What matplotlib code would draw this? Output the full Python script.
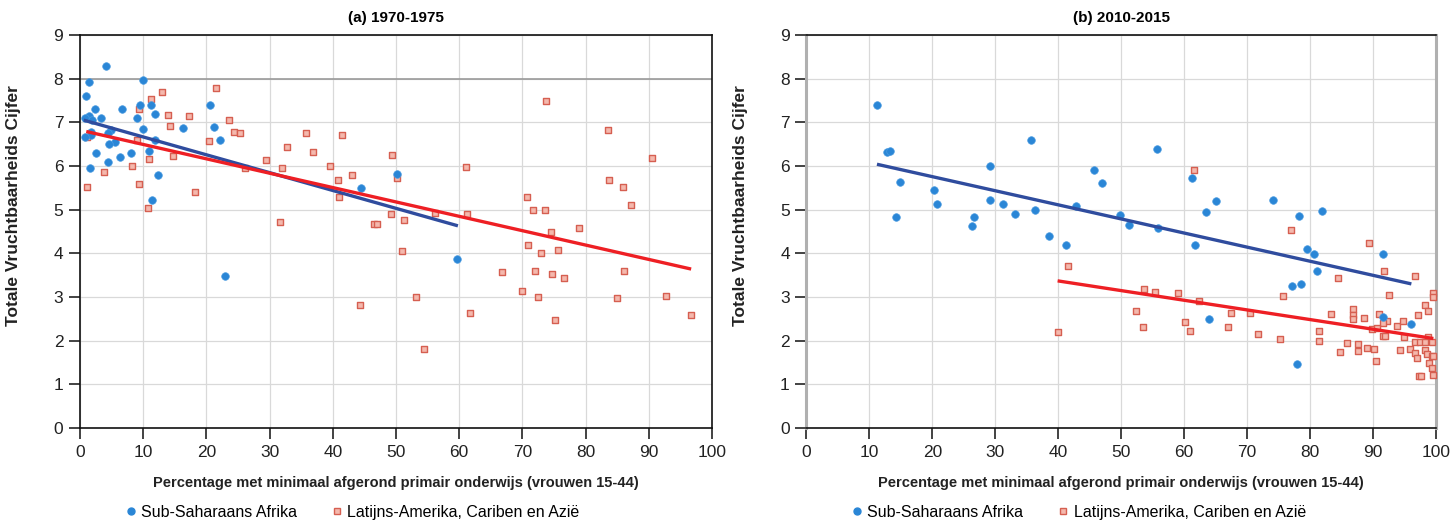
import numpy as np
import matplotlib.pyplot as plt
from matplotlib.lines import Line2D

# lettertype: smalle Helvetica-achtige letter
plt.rcParams['font.family'] = ['Liberation Sans Narrow', 'Liberation Sans', 'DejaVu Sans']

# ---- data (a) 1970-1975 ----
a_afr_x = [4.06, 1.37, 10.0, 0.9, 2.4, 6.6, 9.5, 11.2, 11.9, 1.42, 0.84, 1.95, 3.4, 9.07,
           10.0, 16.3, 1.74, 1.74, 4.9, 4.5, 0.74, 11.9, 5.5, 4.6, 10.9, 2.5, 8.0, 6.3,
           4.4, 1.6, 12.3, 11.4, 20.6, 21.2, 22.2, 44.5, 50.1, 59.7, 22.9]
a_afr_y = [8.28, 7.92, 7.98, 7.6, 7.3, 7.3, 7.4, 7.4, 7.2, 7.14, 7.1, 7.05, 7.1, 7.1,
           6.85, 6.86, 6.79, 6.70, 6.82, 6.75, 6.67, 6.6, 6.55, 6.51, 6.35, 6.29, 6.29, 6.21,
           6.1, 5.95, 5.8, 5.23, 7.4, 6.89, 6.6, 5.5, 5.81, 3.87, 3.48]

a_lat_x = [21.6, 13.0, 11.3, 9.3, 14.0, 17.2, 14.2, 23.6, 24.3, 25.4, 1.15, 9.1, 20.4, 14.7,
           10.9, 8.3, 3.75, 1.06, 9.3, 18.2, 10.8, 26.1, 29.4, 32.0, 32.8, 35.8, 36.9, 41.5,
           39.6, 43.0, 40.8, 41.0, 31.6, 49.4, 50.2, 49.2, 51.2, 46.6, 47.0, 51.0, 73.8, 83.5,
           90.5, 61.1, 83.7, 85.9, 87.2, 70.7, 71.7, 73.6, 56.2, 61.3, 74.6, 78.9, 70.9, 72.9,
           75.7, 66.8, 72.0, 74.7, 76.6, 86.0, 69.9, 72.5, 85.0, 92.7, 53.2, 44.3, 61.7, 75.2,
           96.6, 54.4]
a_lat_y = [7.79, 7.69, 7.54, 7.3, 7.17, 7.15, 6.91, 7.05, 6.79, 6.75, 6.67, 6.6, 6.58, 6.24,
           6.15, 5.99, 5.87, 5.53, 5.59, 5.41, 5.04, 5.95, 6.14, 5.95, 6.44, 6.75, 6.33, 6.7,
           5.99, 5.79, 5.67, 5.3, 4.71, 6.25, 5.73, 4.9, 4.77, 4.67, 4.68, 4.06, 7.49, 6.82,
           6.18, 5.97, 5.69, 5.53, 5.11, 5.28, 4.99, 4.99, 4.93, 4.89, 4.49, 4.59, 4.18, 4.0,
           4.08, 3.57, 3.6, 3.53, 3.44, 3.6, 3.14, 2.99, 2.98, 3.03, 3.01, 2.81, 2.64, 2.48,
           2.59, 1.81]

a_afr_fit_x = [0.6, 59.8]
a_afr_fit_y = [7.05, 4.63]
a_lat_fit_x = [1.0, 96.7]
a_lat_fit_y = [6.79, 3.64]

# ---- data (b) 2010-2015 ----
b_afr_x = [11.2, 12.8, 13.2, 29.1, 35.7, 14.9, 20.3, 20.8, 14.2, 26.6, 26.3, 29.2, 31.3, 33.2,
           36.3, 38.6, 41.3, 42.8, 45.7, 47.0, 49.8, 51.2, 55.7, 61.3, 65.1, 63.5, 74.1, 78.3,
           81.9, 55.8, 61.7, 79.5, 80.6, 91.6, 81.1, 77.1, 78.5, 63.9, 91.6, 96.1, 78.0]
b_afr_y = [7.39, 6.31, 6.34, 5.99, 6.6, 5.64, 5.44, 5.13, 4.83, 4.84, 4.62, 5.21, 5.13, 4.89,
           4.99, 4.39, 4.19, 5.09, 5.9, 5.61, 4.87, 4.66, 6.40, 5.73, 5.19, 4.95, 5.23, 4.85,
           4.98, 4.59, 4.18, 4.09, 3.99, 3.99, 3.59, 3.25, 3.3, 2.49, 2.54, 2.39, 1.47]

b_lat_x = [41.6, 39.9, 53.6, 55.4, 59.1, 62.4, 52.4, 53.4, 60.2, 60.9, 67.5, 66.9, 70.4, 71.7,
           75.3, 61.6, 76.9, 89.4, 91.8, 96.7, 84.4, 75.7, 92.6, 99.6, 99.6, 81.5, 81.5, 83.4,
           86.8, 86.8, 86.8, 88.6, 91.0, 92.2, 91.6, 89.8, 90.7, 93.8, 94.8, 91.6, 91.9, 94.9,
           97.1, 98.2, 98.8, 98.7, 96.7, 97.5, 98.3, 99.4, 85.8, 87.7, 84.7, 87.6, 89.1, 90.2,
           90.5, 94.3, 95.9, 96.6, 97.0, 98.3, 98.6, 99.3, 99.6, 98.9, 99.4, 99.6, 97.3, 97.7]
b_lat_y = [3.72, 2.19, 3.18, 3.12, 3.10, 2.92, 2.69, 2.31, 2.43, 2.22, 2.63, 2.31, 2.64, 2.16,
           2.04, 5.9, 4.54, 4.24, 3.59, 3.49, 3.44, 3.03, 3.05, 3.09, 2.99, 2.22, 1.99, 2.6,
           2.72, 2.58, 2.5, 2.52, 2.6, 2.44, 2.4, 2.27, 2.29, 2.34, 2.45, 2.11, 2.11, 2.09,
           2.59, 2.82, 2.69, 2.08, 1.98, 1.98, 1.98, 1.98, 1.95, 1.92, 1.74, 1.77, 1.84, 1.81,
           1.53, 1.79, 1.81, 1.71, 1.60, 1.79, 1.69, 1.64, 1.64, 1.50, 1.37, 1.22, 1.20, 1.20]

b_afr_fit_x = [11.2, 96.1]
b_afr_fit_y = [6.04, 3.30]
b_lat_fit_x = [39.9, 99.6]
b_lat_fit_y = [3.37, 2.05]

titles = ['(a) 1970-1975', '(b) 2010-2015']
series_names = ['Sub-Saharaans Afrika', 'Latijns-Amerika, Cariben en Azië']
xlabel = 'Percentage met minimaal afgerond primair onderwijs (vrouwen 15-44)'
ylabel = 'Totale Vruchtbaarheids Cijfer'

blue_pt = '#2a86d6'
blue_line = '#2f4c9e'
red_face = '#f4b8ad'
red_edge = '#d65f51'
red_line = '#ee1f24'
grid_c = '#d9d9d9'

fig = plt.figure(figsize=(14.51, 5.2), dpi=100)
ax_a = fig.add_axes([0.0551, 0.1769, 0.4356, 0.7558])
ax_b = fig.add_axes([0.5558, 0.1769, 0.4338, 0.7558])

panels = [
    (ax_a, a_afr_x, a_afr_y, a_lat_x, a_lat_y, a_afr_fit_x, a_afr_fit_y, a_lat_fit_x, a_lat_fit_y),
    (ax_b, b_afr_x, b_afr_y, b_lat_x, b_lat_y, b_afr_fit_x, b_afr_fit_y, b_lat_fit_x, b_lat_fit_y),
]

for i, (ax, ax_x, ax_y, lx, ly, afx, afy, lfx, lfy) in enumerate(panels):
    ax.set_xlim(0, 100)
    ax.set_ylim(0, 9)
    ax.set_xticks(np.arange(0, 101, 10))
    ax.set_yticks(np.arange(0, 10, 1))
    ax.grid(True, color=grid_c, linewidth=0.9)
    ax.set_axisbelow(True)

    # punten
    ax.scatter(lx, ly, marker='s', s=24, facecolor=red_face, edgecolor=red_edge,
               linewidth=1.0, zorder=3, clip_on=False)
    ax.scatter(ax_x, ax_y, marker='o', s=30, facecolor=blue_pt, edgecolor='#4a9be0',
               linewidth=0.5, zorder=4, clip_on=False)

    # trendlijnen
    ax.plot(afx, afy, color=blue_line, linewidth=2.4, zorder=5, solid_capstyle='butt')
    ax.plot(lfx, lfy, color=red_line, linewidth=2.4, zorder=5, solid_capstyle='butt')

    ax.tick_params(axis='both', direction='out', length=8, width=1.2, color='#222222',
                   labelsize=12.5, labelcolor='#222222', pad=4)
    ax.set_title(titles[i], fontsize=11, fontweight='bold', pad=9,
                 family=['Liberation Sans', 'DejaVu Sans'])
    ax.set_xlabel(xlabel, fontsize=10.5, fontweight='bold', labelpad=12, color='#222222')
    ax.set_ylabel(ylabel, fontsize=12.5, fontweight='bold', color='#222222')
    ax.yaxis.set_label_coords(-0.093, 0.565)

    for side in ['top', 'bottom', 'left', 'right']:
        ax.spines[side].set_color('#111111')
        ax.spines[side].set_linewidth(1.2)

    handles = [
        Line2D([], [], marker='o', linestyle='none', markersize=5, markerfacecolor=blue_pt,
               markeredgecolor=blue_pt),
        Line2D([], [], marker='s', linestyle='none', markersize=5, markerfacecolor=red_face,
               markeredgecolor=red_edge, markeredgewidth=1.0),
    ]
    ax.legend(handles, series_names, loc='center left', bbox_to_anchor=(0.05, -0.215),
              ncol=2, frameon=False, handlelength=0.6, handletextpad=0.35, columnspacing=2.2,
              prop={'family': ['Liberation Sans', 'DejaVu Sans'], 'size': 11.5})

# y=8 lijn in (a) is donkerder
ax_a.axhline(8, color='#9a9a9a', linewidth=1.2, zorder=1)

# (b) heeft grijze zijranden
for side in ['left', 'right']:
    ax_b.spines[side].set_color('#b0b0b0')
    ax_b.spines[side].set_linewidth(2.2)

fig.savefig('out.png', dpi=100)
